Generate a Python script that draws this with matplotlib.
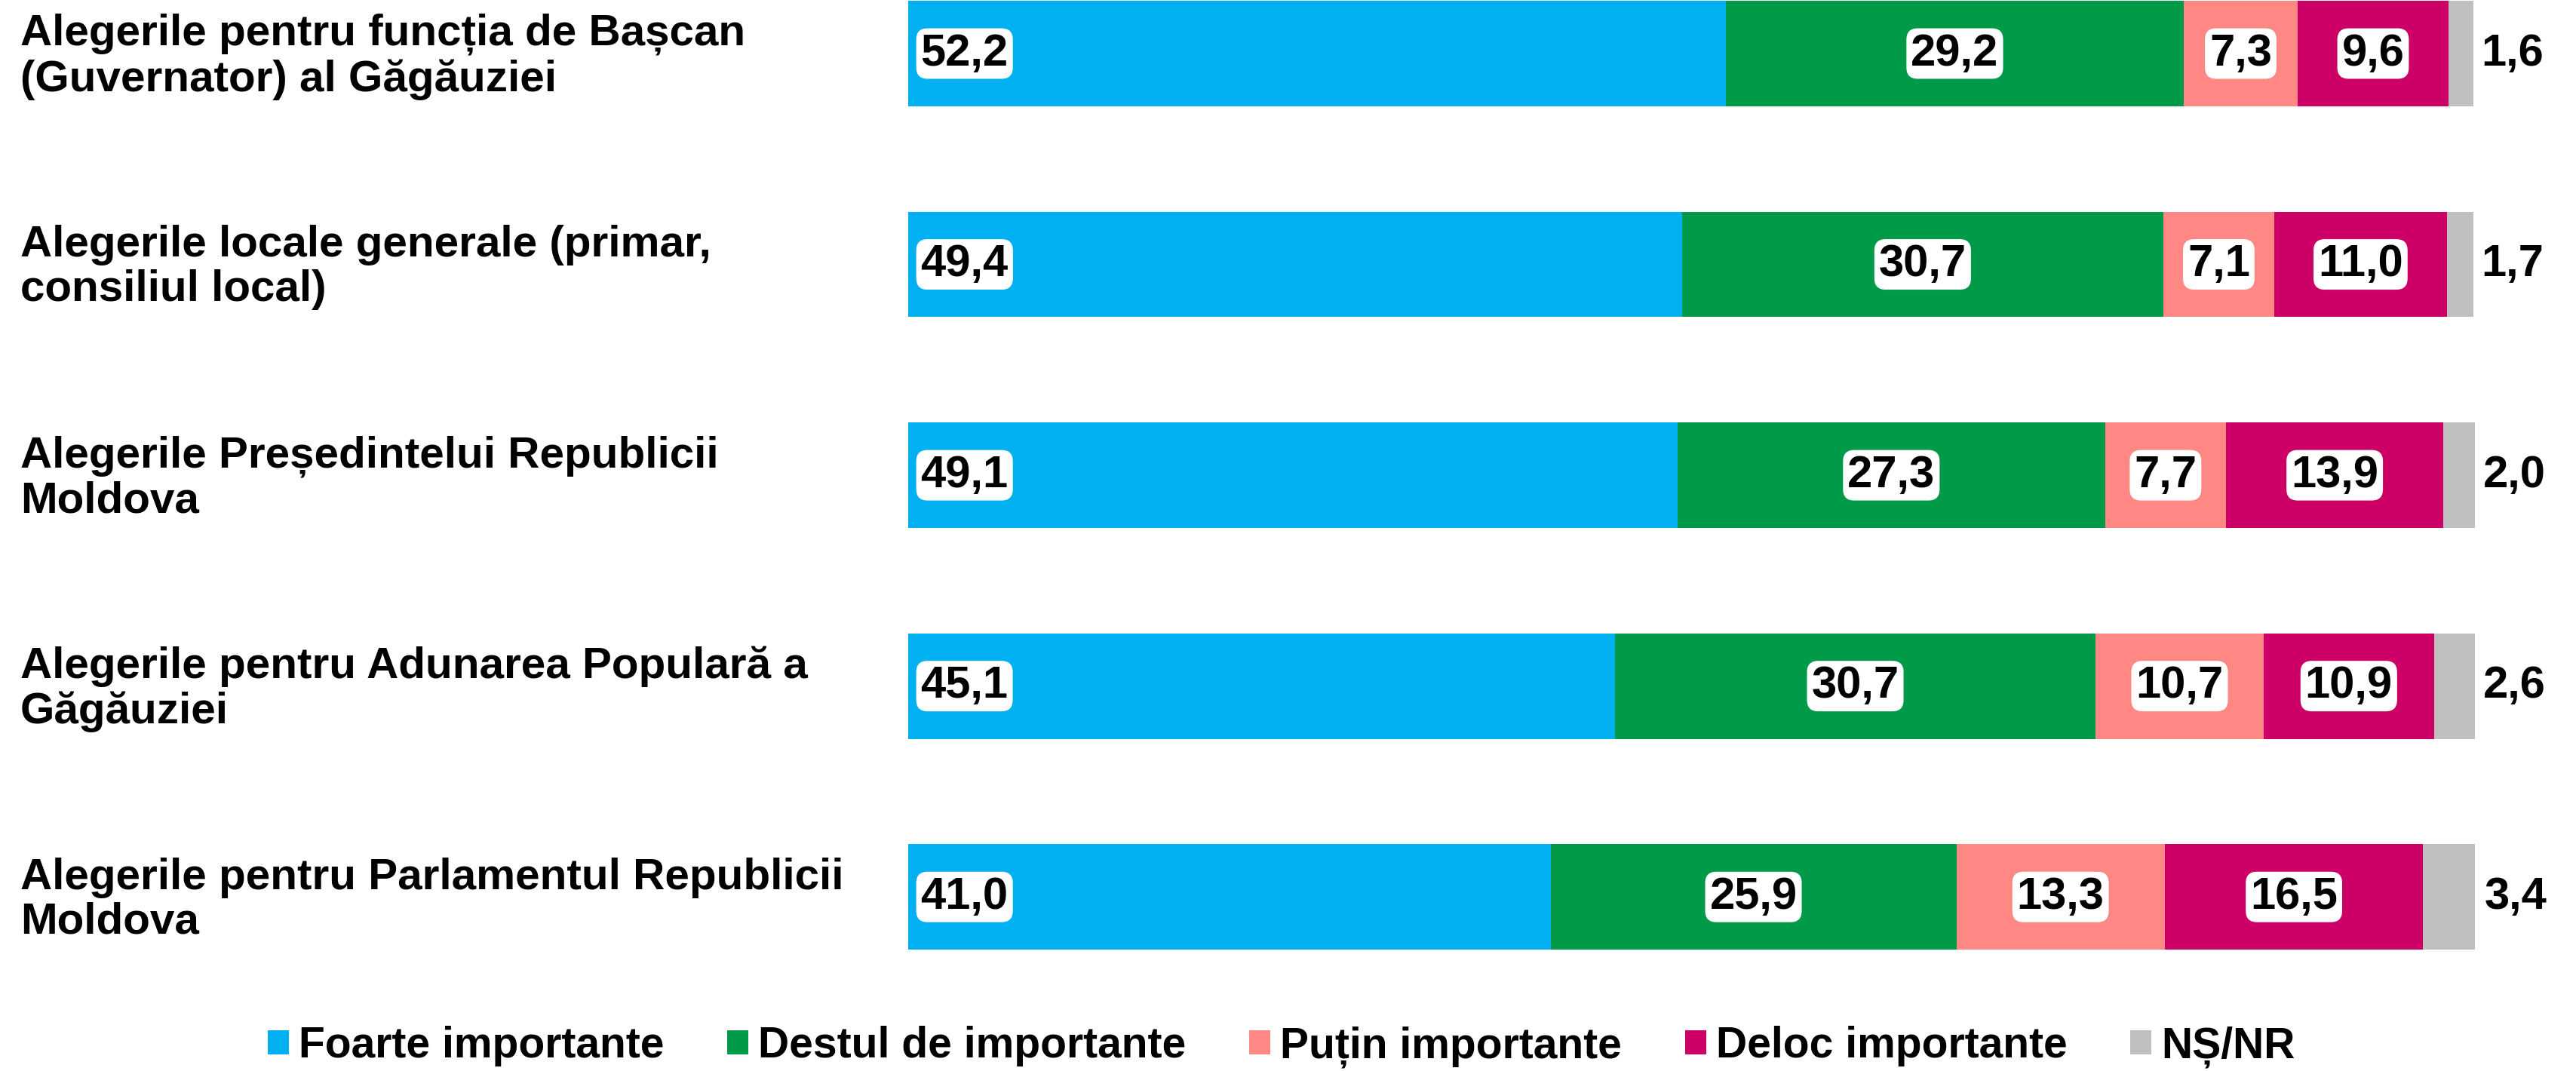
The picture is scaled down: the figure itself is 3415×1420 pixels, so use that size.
import matplotlib
matplotlib.use("Agg")
from matplotlib import pyplot as plt
from matplotlib.patches import Patch
import matplotlib.transforms as mtransforms

plt.rcParams['font.family'] = ['Liberation Sans', 'DejaVu Sans']
plt.rcParams['font.weight'] = 'bold'

categories = [
    "Alegerile pentru funcția de Bașcan\n(Guvernator) al Găgăuziei",
    "Alegerile locale generale (primar,\nconsiliul local)",
    "Alegerile Președintelui Republicii\nMoldova",
    "Alegerile pentru Adunarea Populară a\nGăgăuziei",
    "Alegerile pentru Parlamentul Republicii\nMoldova",
]
series_names = ["Foarte importante", "Destul de importante", "Puțin importante",
                "Deloc importante", "NȘ/NR"]
foarte = [52.2, 49.4, 49.1, 45.1, 41.0]
destul = [29.2, 30.7, 27.3, 30.7, 25.9]
putin = [7.3, 7.1, 7.7, 10.7, 13.3]
deloc = [9.6, 11.0, 13.9, 10.9, 16.5]
nsnr = [1.6, 1.7, 2.0, 2.6, 3.4]
colors = ["#00B0F0", "#009A48", "#FF8884", "#CC0066", "#BFBFBF"]

series = [foarte, destul, putin, deloc, nsnr]


def fmt(v):
    return f"{v:.1f}".replace('.', ',')


fig = plt.figure(figsize=(34.15, 14.2), dpi=100)
ax = fig.add_axes([1204 / 3415, 1 - 1329 / 1420, (3281 - 1204) / 3415, 1329 / 1420])

ypos = list(range(len(categories)))
lefts = [0.0] * len(categories)
box = dict(boxstyle="round,pad=0.1,rounding_size=0.25", fc="white", ec="none")

for si, vals in enumerate(series):
    ax.barh(ypos, vals, left=lefts, height=0.5, color=colors[si], edgecolor="none")
    for i, v in enumerate(vals):
        if si == 0:
            ax.text(0.8, i, fmt(v), ha="left", va="center", fontsize=43,
                    fontweight="bold", bbox=box)
        elif si == 4:
            ax.text(lefts[i] + v + 0.5, i, fmt(v), ha="left", va="center",
                    fontsize=43, fontweight="bold")
        else:
            ax.text(lefts[i] + v / 2, i, fmt(v), ha="center", va="center",
                    fontsize=43, fontweight="bold", bbox=box)
    lefts = [l + v for l, v in zip(lefts, series[si])]

ax.set_xlim(0, 100)
ax.set_ylim(4.5, -71 / 279.5)
ax.axis("off")

trans = mtransforms.blended_transform_factory(fig.transFigure, ax.transData)
for i, cat in enumerate(categories):
    ax.text(27 / 3415, i + 0.015, cat, transform=trans, ha="left", va="center",
            fontsize=42, fontweight="bold", linespacing=1.12, clip_on=False)

handles = [Patch(facecolor=c, edgecolor="none") for c in colors]
fig.legend(handles, series_names, loc="center", bbox_to_anchor=(0.4975, 1 - 1388 / 1420),
           ncol=5, frameon=False, handlelength=0.49, handleheight=0.49,
           handletextpad=0.23, columnspacing=1.47,
           prop={'weight': 'bold', 'size': 41})

fig.savefig("out.png", dpi=100)
